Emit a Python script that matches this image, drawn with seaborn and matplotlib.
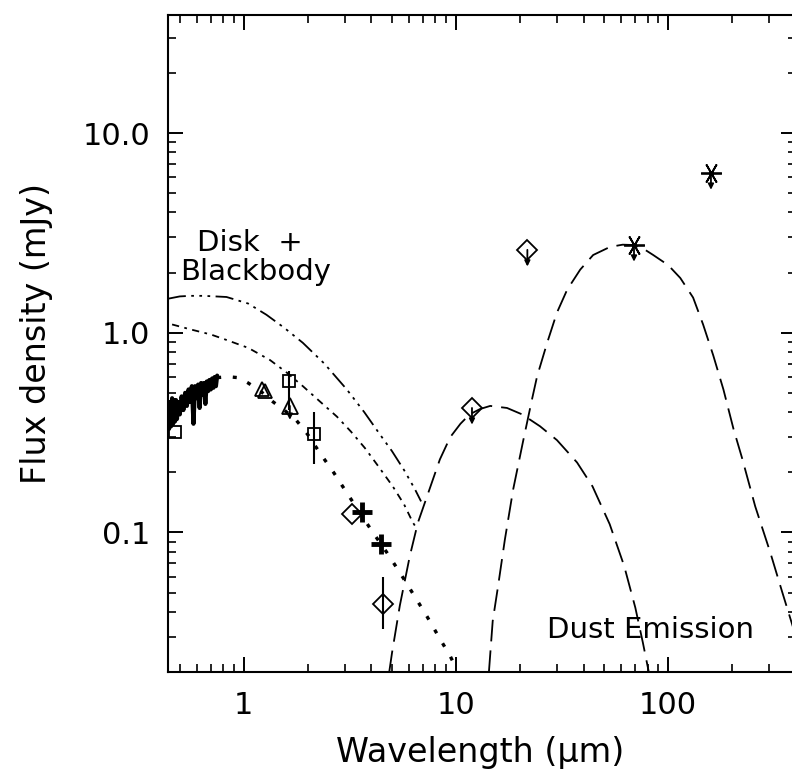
import numpy as np
import pandas as pd
import matplotlib
matplotlib.use("Agg")
import matplotlib.pyplot as plt
import seaborn as sns
from matplotlib.transforms import offset_copy
from matplotlib.ticker import FixedLocator, LogLocator, NullFormatter

# ---------------- data ----------------
# observed spectrum (optical)
spec_wl = [0.440, 0.445, 0.450, 0.455, 0.460, 0.465, 0.470, 0.475, 0.480, 0.485,
           0.490, 0.500, 0.510, 0.520, 0.530, 0.540, 0.550, 0.560, 0.570, 0.580,
           0.590, 0.600, 0.610, 0.620, 0.630, 0.640, 0.650, 0.660, 0.670, 0.680,
           0.690, 0.700, 0.710, 0.720, 0.730, 0.740, 0.750]
spec_fx = [0.40, 0.33, 0.45, 0.34, 0.47, 0.35, 0.46, 0.36, 0.46, 0.37,
           0.45, 0.39, 0.48, 0.41, 0.50, 0.43, 0.52, 0.45, 0.54, 0.35,
           0.54, 0.47, 0.55, 0.42, 0.56, 0.49, 0.56, 0.44, 0.57, 0.51,
           0.58, 0.52, 0.59, 0.53, 0.60, 0.54, 0.61]

# model curves
diskbb_wl = [0.44, 0.50, 0.56, 0.65, 0.83, 1.05, 1.28, 1.55, 1.90, 2.40, 3.06, 3.70, 4.38, 5.00, 5.70, 6.40, 6.85]
diskbb_fx = [1.48, 1.52, 1.53, 1.53, 1.51, 1.40, 1.23, 1.06, 0.89, 0.70, 0.52, 0.40, 0.31, 0.255, 0.205, 0.165, 0.143]

disk_wl = [0.46, 0.56, 0.70, 0.83, 1.05, 1.33, 1.60, 1.90, 2.30, 2.75, 3.20, 3.72, 4.30, 5.04, 5.70, 6.27, 6.60]
disk_fx = [1.10, 1.04, 0.98, 0.92, 0.84, 0.73, 0.63, 0.54, 0.45, 0.38, 0.32, 0.265, 0.215, 0.170, 0.138, 0.112, 0.103]

phot_wl = [0.75, 0.85, 0.95, 1.05, 1.20, 1.37, 1.55, 1.75, 2.00, 2.28, 2.65, 3.06, 3.50,
           4.06, 4.70, 5.44, 6.30, 7.30, 8.30, 9.40, 10.0]
phot_fx = [0.596, 0.602, 0.595, 0.56, 0.51, 0.452, 0.41, 0.37, 0.31, 0.251, 0.20, 0.158, 0.127,
           0.100, 0.080, 0.063, 0.049, 0.038, 0.030, 0.024, 0.021]

warm_wl = [4.85, 5.0, 5.44, 6.06, 6.62, 7.3, 8.4, 9.4, 10.5, 11.6, 13.0, 14.5, 17.4, 20.5,
           24.9, 29.9, 37.2, 44.0, 53.0, 62.0, 70.0, 76.0, 81.0]
warm_fx = [0.020, 0.025, 0.043, 0.076, 0.112, 0.151, 0.232, 0.30, 0.35, 0.39, 0.415, 0.43, 0.42, 0.39,
           0.34, 0.29, 0.224, 0.17, 0.11, 0.068, 0.042, 0.028, 0.020]

cold_wl = [14.3, 14.9, 15.8, 17.0, 18.6, 20.7, 22.8, 24.1, 26.9, 29.9, 33.4, 38.5, 44.3, 53.2,
           61.0, 68.4, 77.0, 85.0, 100.0, 114.0, 131.0, 146.0, 163.0, 182.0, 203.0, 223.0, 257.0, 303.0,
           345.0, 400.0]
cold_fx = [0.020, 0.036, 0.054, 0.092, 0.164, 0.285, 0.462, 0.603, 0.891, 1.26, 1.64, 2.07, 2.45, 2.69,
           2.76, 2.75, 2.62, 2.45, 2.18, 1.88, 1.50, 1.10, 0.77, 0.52, 0.33, 0.235, 0.135, 0.079,
           0.050, 0.030]

# photometry
sq_wl = [0.474, 1.63, 2.14]
sq_fx = [0.32, 0.57, 0.31]
sq_lo = [0.0, 0.16, 0.09]
sq_hi = [0.0, 0.07, 0.09]

tri_wl = [1.22, 1.26]
tri_fx = [0.52, 0.51]

dia_wl = [3.23, 4.52]
dia_fx = [0.124, 0.044]
dia_lo = [0.0, 0.011]
dia_hi = [0.0, 0.016]

plus_wl = [3.60, 4.43]
plus_fx = [0.126, 0.087]

# upper limits
ul_tri_wl = [1.65]
ul_tri_fx = [0.43]
ul_dia_wl = [11.9, 21.7]
ul_dia_fx = [0.42, 2.6]
ul_ast_wl = [69.0, 159.0]
ul_ast_fx = [2.75, 6.3]

x_ticks = [1, 10, 100]
x_ticklabels = ["1", "10", "100"]
y_ticks = [0.1, 1.0, 10.0]
y_ticklabels = ["0.1", "1.0", "10.0"]

# ---------------- figure ----------------
sns.set_style("ticks")
plt.rcParams["font.family"] = ["DejaVu Sans"]
plt.rcParams["text.color"] = "black"
plt.rcParams["axes.labelcolor"] = "black"
plt.rcParams["xtick.color"] = "black"
plt.rcParams["ytick.color"] = "black"

W, H = 792, 778
fig = plt.figure(figsize=(W / 100, H / 100), dpi=100)
ax = fig.add_axes([168 / W, (H - 672) / H, (796 - 168) / W, (672 - 15) / H])
ax.set_xscale("log")
ax.set_yscale("log")

def curve(xs, ys, ls, lw):
    df = pd.DataFrame({"wl": xs, "fx": ys})
    sns.lineplot(data=df, x="wl", y="fx", ax=ax, color="black", lw=lw,
                 linestyle=ls, sort=False, estimator=None)

curve(spec_wl, spec_fx, "-", 3.0)
curve(diskbb_wl, diskbb_fx, (0, (10, 3, 1.5, 3, 1.5, 3, 1.5, 3)), 1.3)
curve(disk_wl, disk_fx, (0, (4, 3, 1.5, 3)), 1.3)
curve(phot_wl, phot_fx, (0, (1.2, 3.5)), 2.4)
curve(warm_wl, warm_fx, (0, (12, 5)), 1.3)
curve(cold_wl, cold_fx, (0, (12, 5)), 1.3)

mk = dict(color="black", mfc="none", linestyle="none", mew=1.3)
ax.errorbar(sq_wl, sq_fx, yerr=[sq_lo, sq_hi], marker="s", ms=9, elinewidth=1.5, capsize=0, **mk)
ax.plot(tri_wl, tri_fx, marker="^", ms=10, **mk)
ax.errorbar(dia_wl, dia_fx, yerr=[dia_lo, dia_hi], marker="D", ms=10, elinewidth=1.5, capsize=0, **mk)
ax.plot(plus_wl, plus_fx, marker="+", ms=14, color="black", linestyle="none", mew=3.5)

ax.plot(ul_tri_wl, ul_tri_fx, marker="^", ms=11, **mk)
ax.plot(ul_dia_wl, ul_dia_fx, marker="D", ms=10, **mk)
ax.plot(ul_ast_wl, ul_ast_fx, marker=(6, 2, 90), ms=15, color="black", linestyle="none", mew=1.3)

def down_arrows(xs, ys, length):
    tr = offset_copy(ax.transData, fig=fig, y=-length, units="points")
    for x, y in zip(xs, ys):
        ax.annotate("", xy=(x, y), xycoords=tr, xytext=(x, y), textcoords="data",
                    arrowprops=dict(arrowstyle="-|>", color="black", lw=1.3,
                                    mutation_scale=8, shrinkA=0, shrinkB=0))

down_arrows(ul_tri_wl, ul_tri_fx, 10)
down_arrows(ul_dia_wl, ul_dia_fx, 12)
down_arrows(ul_ast_wl, ul_ast_fx, 12)

# ---------------- axes styling ----------------
ax.set_xlim(0.44, 400)
ax.set_ylim(0.02, 39)
ax.xaxis.set_major_locator(FixedLocator(x_ticks))
ax.xaxis.set_major_formatter(plt.FixedFormatter(x_ticklabels))
ax.yaxis.set_major_locator(FixedLocator(y_ticks))
ax.yaxis.set_major_formatter(plt.FixedFormatter(y_ticklabels))
ax.xaxis.set_minor_locator(LogLocator(base=10, subs=np.arange(2, 10), numticks=20))
ax.yaxis.set_minor_locator(LogLocator(base=10, subs=np.arange(2, 10), numticks=20))
ax.xaxis.set_minor_formatter(NullFormatter())
ax.yaxis.set_minor_formatter(NullFormatter())

ax.tick_params(which="both", direction="in", top=True, right=True, colors="black")
ax.tick_params(which="major", length=10.8, width=1.4, labelsize=22)
ax.tick_params(axis="x", which="major", pad=14)
ax.tick_params(axis="y", which="major", pad=13)
ax.tick_params(which="minor", length=5.8, width=1.2)
for sp in ax.spines.values():
    sp.set_linewidth(1.5)
    sp.set_color("black")

ax.set_xlabel("Wavelength (\u03bcm)", fontsize=24, color="black")
ax.set_ylabel("Flux density (mJy)", fontsize=24, color="black")
ax.xaxis.set_label_coords(0.497, -0.122)
ax.xaxis.label.set_va("center")
ax.yaxis.set_label_coords(-0.209, 0.515)
ax.yaxis.label.set_va("center")
ax.yaxis.label.set_ha("center")

ax.text(0.046, 0.653, "Disk  +", transform=ax.transAxes, fontsize=21, va="center", ha="left", color="black")
ax.text(0.019, 0.609, "Blackbody", transform=ax.transAxes, fontsize=21, va="center", ha="left", color="black")
ax.text(0.603, 0.064, "Dust Emission", transform=ax.transAxes, fontsize=21, va="center", ha="left", color="black")

fig.savefig("out.png", dpi=100)
